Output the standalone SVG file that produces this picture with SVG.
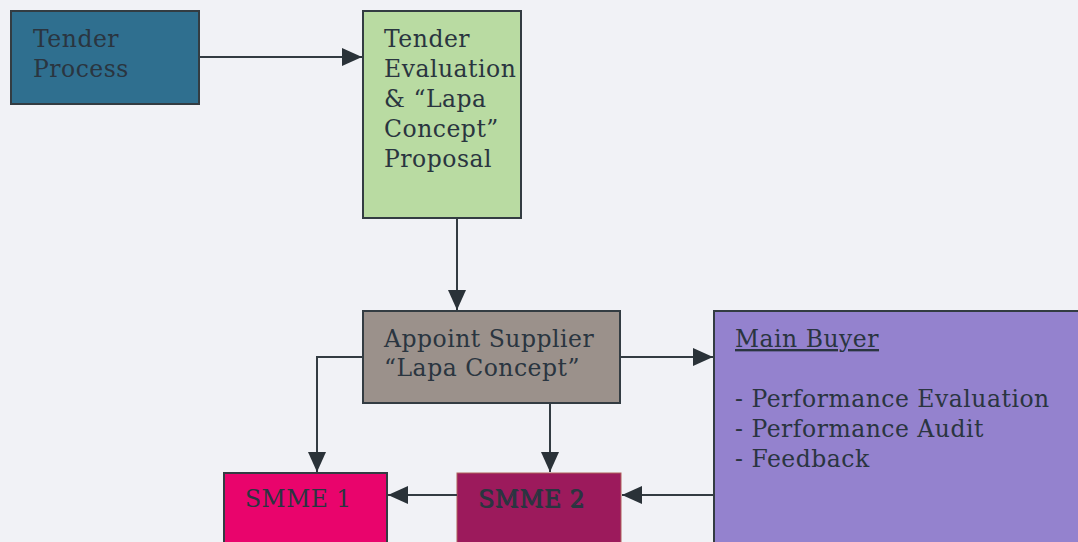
<svg xmlns="http://www.w3.org/2000/svg" width="1078" height="542" viewBox="0 0 1078 542">
  <style>
    .box { stroke: #333c42; stroke-width: 2; }
    .lbl { font-family: "DejaVu Serif", "Liberation Serif", serif; font-size: 23.5px; letter-spacing: 0.5px; fill: #2a3540; }
    .conn { fill: none; stroke: #333c42; stroke-width: 2; }
  </style>
  <defs>
    <marker id="head" viewBox="0 0 20 20" refX="20" refY="10" markerWidth="20" markerHeight="20" markerUnits="userSpaceOnUse" orient="auto">
      <path d="M0,1 L20,10 L0,19 z" fill="#2a3238"/>
    </marker>
  </defs>

  <rect width="1078" height="542" fill="#f1f2f6"/>

  <g id="tender-process">
    <rect class="box" x="11" y="11" width="188" height="93" fill="#2f6f8f"/>
    <text class="lbl" x="33" y="47" fill="#1f3a4c">Tender</text>
    <text class="lbl" x="33" y="77" fill="#1f3a4c">Process</text>
  </g>

  <g id="tender-evaluation">
    <rect class="box" x="363" y="11" width="158" height="207" fill="#b9dba2"/>
    <text class="lbl" x="384" y="47">Tender</text>
    <text class="lbl" x="384" y="77">Evaluation</text>
    <text class="lbl" x="384" y="107">&amp; “Lapa</text>
    <text class="lbl" x="384" y="137">Concept”</text>
    <text class="lbl" x="384" y="167">Proposal</text>
  </g>

  <g id="appoint-supplier">
    <rect class="box" x="363" y="311" width="257" height="92" fill="#9b918b"/>
    <text class="lbl" x="384" y="347">Appoint Supplier</text>
    <text class="lbl" x="384" y="376">“Lapa Concept”</text>
  </g>

  <g id="main-buyer">
    <rect class="box" x="714" y="311" width="370" height="240" fill="#9482ce"/>
    <text class="lbl" x="735" y="347" text-decoration="underline">Main Buyer</text>
    <text class="lbl" x="735" y="407">- Performance Evaluation</text>
    <text class="lbl" x="735" y="437">- Performance Audit</text>
    <text class="lbl" x="735" y="467">- Feedback</text>
  </g>

  <g id="smme-1">
    <rect class="box" x="224" y="473" width="163" height="80" fill="#e9046c"/>
    <text class="lbl" x="245" y="507">SMME 1</text>
  </g>

  <g id="smme-2">
    <rect x="457" y="473" width="164" height="80" fill="#9c1a5c" stroke="#b0605a" stroke-width="1"/>
    <text class="lbl" x="479" y="508" fill="#c07090">SMME 2</text>
    <text class="lbl" x="478" y="507" fill="#3a2430">SMME 2</text>
  </g>

  <g id="connectors">
    <path class="conn" d="M199,57 H362" marker-end="url(#head)"/>
    <path class="conn" d="M457,218 V310" marker-end="url(#head)"/>
    <path class="conn" d="M620,357 H713" marker-end="url(#head)"/>
    <path class="conn" d="M363,357 H317 V472" marker-end="url(#head)"/>
    <path class="conn" d="M550,403 V472" marker-end="url(#head)"/>
    <path class="conn" d="M713,495 H622" marker-end="url(#head)"/>
    <path class="conn" d="M457,495 H388" marker-end="url(#head)"/>
  </g>
</svg>
